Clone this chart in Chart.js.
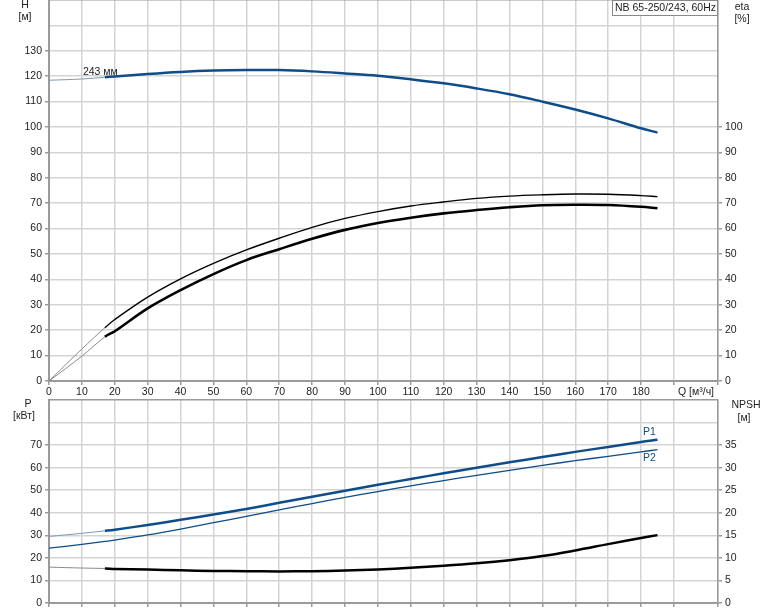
<!DOCTYPE html>
<html>
<head>
<meta charset="utf-8">
<script src="https://cdn.jsdelivr.net/npm/chart.js@4.4.1/dist/chart.umd.min.js"></script>
<style>
  body { margin: 0; background: #fff; }
  #wrap { position: relative; width: 774px; height: 611px; overflow: hidden; }
  canvas { position: absolute; left: 0; }
</style>
</head>
<body>
<div id="wrap">
  <canvas id="topChart" width="774" height="401" style="top:-1px"></canvas>
  <canvas id="bottomChart" width="774" height="212" style="top:399px"></canvas>
</div>
<script>
// --- data (Q in m3/h) ---
// below Q = 17 the curves are drawn thin (outside the operating range)
var qValues = [0, 10, 17, 20, 30, 40, 50, 60, 70, 80, 90, 100, 110, 120, 130, 140, 150, 160, 170, 180, 185];
var qStart = 17;

// head H [m], impeller 243 mm
var head = [118.4, 118.9, 119.6, 119.9, 120.9, 121.7, 122.2, 122.4, 122.4, 121.9, 121.1, 120.2, 118.8, 117.2, 115.2, 112.9, 110.0, 106.9, 103.4, 99.5, 97.8];

// efficiency eta [%]
var etaPump = [0, 12.6, 21.0, 24.2, 33.0, 40.2, 46.3, 51.6, 56.2, 60.5, 64.0, 66.7, 68.9, 70.5, 71.9, 72.8, 73.3, 73.6, 73.5, 73.0, 72.6];
var etaTotal = [0, 9.8, 17.4, 19.6, 28.6, 35.8, 42.1, 47.6, 51.9, 56.0, 59.5, 62.2, 64.3, 66.0, 67.3, 68.4, 69.2, 69.4, 69.3, 68.6, 68.0];

// power P [kW]
var p1 = [29.5, 30.9, 32.0, 32.5, 34.6, 36.9, 39.2, 41.7, 44.4, 47.1, 49.8, 52.4, 55.0, 57.5, 60.0, 62.4, 64.7, 67.0, 69.2, 71.4, 72.4];
var p2 = [24.3, 26.0, 27.3, 27.9, 30.2, 32.8, 35.6, 38.4, 41.3, 44.1, 46.8, 49.4, 51.9, 54.3, 56.6, 58.8, 61.0, 63.1, 65.0, 67.0, 68.0];

// NPSH [m]
var npsh = [7.95, 7.75, 7.65, 7.55, 7.4, 7.25, 7.1, 7.05, 7.0, 7.05, 7.2, 7.45, 7.8, 8.25, 8.8, 9.5, 10.4, 11.65, 13.05, 14.4, 15.05];

var qMax = 203.4;

Chart.defaults.font.family = "'Liberation Sans', Arial, sans-serif";
Chart.defaults.font.size = 10.5;
Chart.defaults.color = '#222';

var BLUE = '#0e4d8a';
var GRID = '#d4d4d4';
var AXIS = '#9a9a9a';

function pts(vs) {
    return qValues.map(function(q, i) { return { x: q, y: vs[i] }; });
}

// one curve; leadColor draws the part below qStart as a thin lighter line
function curve(values, color, width, yAxis, leadColor) {
    return {
        data: pts(values),
        borderColor: color,
        borderWidth: width,
        pointRadius: 0,
        fill: false,
        tension: 0.35,
        yAxisID: yAxis,
        segment: leadColor ? {
            borderColor: function(c) { return c.p1.parsed.x <= qStart ? leadColor : undefined; },
            borderWidth: function(c) { return c.p1.parsed.x <= qStart ? 1 : undefined; }
        } : {}
    };
}

// texts drawn on the canvas: axis titles, curve labels, legend box
var notes = {
    id: 'notes',
    afterDraw: function(chart, args, opts) {
        var ctx = chart.ctx;
        ctx.save();
        ctx.font = "10.5px 'Liberation Sans', Arial, sans-serif";
        ctx.textBaseline = 'middle';
        (opts.box || []).forEach(function(b) {
            ctx.fillStyle = '#fff';
            ctx.fillRect(b.x, b.y, b.w, b.h);
            ctx.strokeStyle = '#888';
            ctx.lineWidth = 1;
            ctx.strokeRect(b.x + 0.5, b.y + 0.5, b.w, b.h);
            ctx.fillStyle = '#222';
            ctx.textAlign = 'left';
            ctx.fillText(b.text, b.x + 3, b.y + b.h / 2 + 1);
        });
        (opts.items || []).forEach(function(t) {
            var x = t.x, y = t.y;
            if (t.q !== undefined) {
                x = chart.scales.x.getPixelForValue(t.q);
                y = chart.scales[t.axis].getPixelForValue(t.v);
            }
            ctx.fillStyle = t.color || '#222';
            ctx.textAlign = t.align || 'center';
            ctx.fillText(t.text, x, y);
        });
        ctx.restore();
    }
};

function noPad(s) {
    s.paddingTop = 0;
    s.paddingBottom = 0;
    s.paddingLeft = 0;
    s.paddingRight = 0;
}

function xScale(showLabels, height) {
    return {
        type: 'linear',
        min: 0,
        max: qMax,
        afterFit: function(s) { s.height = height; noPad(s); },
        ticks: {
            display: showLabels,
            stepSize: 10,
            padding: 1,
            maxRotation: 0,
            autoSkip: false,
            callback: function(v) { return (v % 10 === 0 && v <= 180) ? String(v) : ''; }
        },
        grid: { color: GRID, lineWidth: 1.5, tickLength: 4, tickColor: AXIS },
        border: { color: AXIS, width: 2 }
    };
}

function yScale(pos, max, step, lastLabel, width, grid) {
    return {
        type: 'linear',
        position: pos,
        min: 0,
        max: max,
        afterFit: function(s) { s.width = width; noPad(s); },
        ticks: {
            stepSize: step,
            padding: 3,
            callback: function(v) { return v <= lastLabel ? String(v) : ''; }
        },
        grid: {
            drawOnChartArea: grid,
            color: function(c) { return c.tick && c.tick.value === max ? AXIS : GRID; },
            lineWidth: 1.5,
            tickLength: 4,
            tickColor: function(c) { return c.tick && c.tick.value <= lastLabel ? AXIS : 'rgba(0,0,0,0)'; }
        },
        border: { color: AXIS, width: pos === 'left' ? 2 : 1.5 }
    };
}

var topChart = new Chart(document.getElementById('topChart').getContext('2d'), {
    type: 'line',
    data: {
        datasets: [
            curve(head, BLUE, 2.5, 'y', '#7d97b5'),
            curve(etaPump, '#000', 1.4, 'y2', '#8a8a8a'),
            curve(etaTotal, '#000', 2.6, 'y2', '#8a8a8a')
        ]
    },
    options: {
        responsive: false,
        animation: false,
        layout: { padding: { top: 1, left: 0, right: 0, bottom: 0 } },
        plugins: {
            legend: { display: false },
            tooltip: { enabled: false },
            notes: {
                box: [{ x: 612, y: 1, w: 105, h: 15, text: 'NB 65-250/243, 60Hz' }],
                items: [
                    { text: 'H', x: 25, y: 6 },
                    { text: '[м]', x: 25, y: 18 },
                    { text: 'eta', x: 742, y: 8 },
                    { text: '[%]', x: 742, y: 20 },
                    { text: 'Q [м³/ч]', x: 678, y: 393, align: 'left' },
                    { text: '243 мм', q: 10.3, v: 121.7, axis: 'y', align: 'left' }
                ]
            }
        },
        scales: {
            x: xScale(true, 19),
            y: yScale('left', 150, 10, 130, 49, true),
            y2: yScale('right', 150, 10, 100, 56, false)
        }
    },
    plugins: [notes]
});

var bottomChart = new Chart(document.getElementById('bottomChart').getContext('2d'), {
    type: 'line',
    data: {
        datasets: [
            curve(p1, BLUE, 2.5, 'y', '#7d97b5'),
            curve(p2, BLUE, 1.3, 'y'),
            curve(npsh, '#000', 2.5, 'y2', '#8a8a8a')
        ]
    },
    options: {
        responsive: false,
        animation: false,
        layout: { padding: { top: 1, left: 0, right: 0, bottom: 0 } },
        plugins: {
            legend: { display: false },
            tooltip: { enabled: false },
            notes: {
                items: [
                    { text: 'P', x: 28, y: 5 },
                    { text: '[кВт]', x: 24, y: 17 },
                    { text: 'NPSH', x: 746, y: 6 },
                    { text: '[м]', x: 744, y: 19 },
                    { text: 'P1', q: 180.6, v: 75.6, axis: 'y', align: 'left', color: BLUE },
                    { text: 'P2', q: 180.6, v: 64.4, axis: 'y', align: 'left', color: BLUE }
                ]
            }
        },
        scales: {
            x: xScale(false, 8),
            y: yScale('left', 90, 10, 70, 49, true),
            y2: yScale('right', 45, 5, 35, 56, false)
        }
    },
    plugins: [notes]
});
</script>
</body>
</html>
